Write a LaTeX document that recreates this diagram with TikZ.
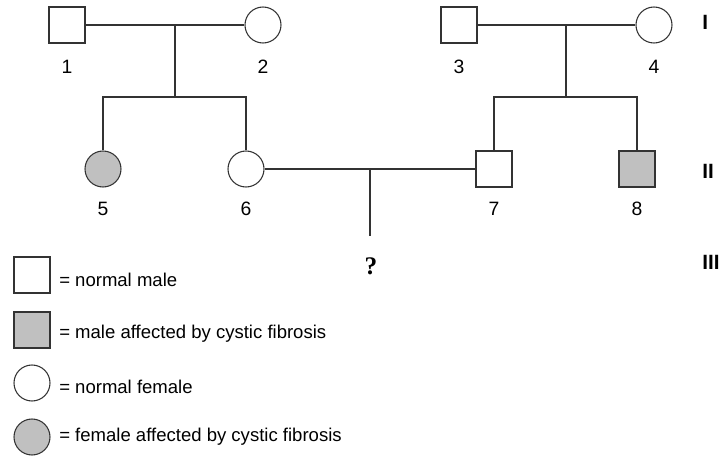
\documentclass[tikz,border=0pt]{standalone}
\usepackage{fontspec}
\setmainfont{Liberation Sans}
\newfontfamily\qfont{Liberation Serif}
\usepackage{tikz}
\usetikzlibrary{shapes}
\usetikzlibrary{positioning}
\definecolor{affgray}{HTML}{C0C0C0}
\definecolor{linegray}{HTML}{333333}
\tikzstyle{male}=[
        draw=linegray,
        rectangle,
        line width=0.8pt,
        minimum size=27pt,
        inner sep=0pt,
        fill=white
]
\tikzstyle{female}=[
        draw=linegray,
        circle,
        line width=0.8pt,
        minimum size=27pt,
        inner sep=0pt,
        fill=white
]
\tikzstyle{affected}=[fill=affgray]
\tikzstyle{num}=[inner sep=0pt,font=\fontsize{14.5}{17}\selectfont]
\tikzstyle{gen}=[inner sep=0pt,anchor=west,font=\fontsize{15.5}{18}\selectfont\bfseries]
\tikzstyle{legtext}=[inner sep=0pt,anchor=west,font=\fontsize{13.9}{16}\selectfont]
\tikzstyle{lien}=[draw=linegray,line width=0.8pt]

\begin{document}
\begin{tikzpicture}[x=0.75pt,y=-0.75pt]
\useasboundingbox (0,0) rectangle (719,456);
%generation I
\node[male] (p1) at (67,25) {};
\node[female] (p2) at (263,25) {};
\node[male] (p3) at (459,25) {};
\node[female] (p4) at (654,25) {};
\node[num] (l1) at (67,67) {1};
\node[num] (l2) at (263,67) {2};
\node[num] (l3) at (459,67) {3};
\node[num] (l4) at (654,67) {4};
%generation II
\node[female,affected] (p5) at (103,169) {};
\node[female] (p6) at (246,169) {};
\node[male] (p7) at (494,169) {};
\node[male,affected] (p8) at (637,169) {};
\node[num] (l5) at (103,209) {5};
\node[num] (l6) at (246,209) {6};
\node[num] (l7) at (494,209) {7};
\node[num] (l8) at (637,209) {8};
%generation III
\node[inner sep=0pt,font=\qfont\fontsize{19}{22}\selectfont\bfseries] (q) at (371,266) {?};
\coordinate (m12) at (175,25);
\coordinate (s12) at (175,97);
\coordinate (m34) at (566,25);
\coordinate (s34) at (566,97);
\coordinate (m67) at (370,169);
\coordinate (e67) at (370,236);
%Placementdesliens
\draw[lien] (p1) -- (p2);
\draw[lien] (m12) -- (s12);
\draw[lien] (p5.north) |- (s12) -| (p6.north);
\draw[lien] (p3) -- (p4);
\draw[lien] (m34) -- (s34);
\draw[lien] (p7.north) |- (s34) -| (p8.north);
\draw[lien] (p6) -- (p7);
\draw[lien] (m67) -- (e67);
%generations
\node[gen] (g1) at (702,22) {I};
\node[gen] (g2) at (702,171) {II};
\node[gen] (g3) at (702,262) {III};
%legende
\node[male] (k1) at (32,275) {};
\node[male,affected] (k2) at (32,330) {};
\node[female] (k3) at (32,383) {};
\node[female,affected] (k4) at (32,437) {};
\node[legtext] (t1) at (59,280) {= normal male};
\node[legtext] (t2) at (59,334) {= male affected by cystic fibrosis};
\node[legtext] (t3) at (59,387) {= normal female};
\node[legtext] (t4) at (59,437) {= female affected by cystic fibrosis};
\end{tikzpicture}
\end{document}
